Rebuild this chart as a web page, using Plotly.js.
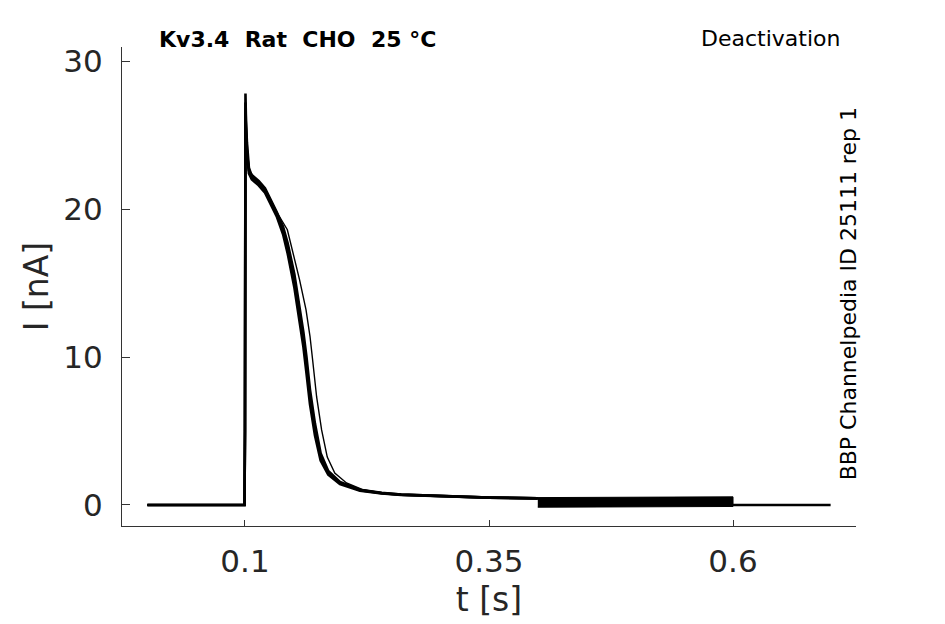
<!DOCTYPE html>
<html>
<head>
<meta charset="utf-8">
<script src="https://cdn.plot.ly/plotly-3.0.1.min.js"></script>
<style>
  html, body { margin: 0; padding: 0; background: #fff; }
  #chart { width: 945px; height: 624px; }
</style>
</head>
<body>
<div id="chart"></div>
<script>
// sample times (s) for the bundle of close sweeps
var tMain = [0, 0.0995, 0.1, 0.1005, 0.101, 0.102, 0.104, 0.107, 0.114, 0.1205, 0.1325,
             0.139, 0.1437, 0.1506, 0.1556, 0.1598, 0.163, 0.1666, 0.1717, 0.1775, 0.1853,
             0.1973, 0.2178, 0.24, 0.26, 0.3, 0.35, 0.4];

// currents (nA)
var sweepA = [0, 0, 5, 27.8, 26.0, 24.5, 22.8, 22.2, 21.8, 21.3, 19.7,
              18.6, 17.4, 15.2, 13.0, 11.2, 9.4, 7.3, 5.07, 3.24, 2.16,
              1.49, 1.0, 0.8, 0.7, 0.6, 0.5, 0.45];
var sweepB = [0, 0, 5, 27.2, 25.6, 24.0, 22.4, 22.0, 21.6, 21.1, 19.5,
              18.3, 17.0, 14.7, 12.5, 10.7, 8.9, 6.8, 4.7, 3.0, 2.05,
              1.42, 0.97, 0.78, 0.68, 0.58, 0.5, 0.45];
var sweepC = [0, 0, 5, 26.5, 25.2, 23.7, 22.6, 22.3, 21.9, 21.4, 19.8,
              18.8, 17.7, 15.6, 13.5, 11.7, 10.0, 7.8, 5.5, 3.5, 2.3,
              1.56, 1.03, 0.82, 0.7, 0.6, 0.5, 0.45];

// the one sweep that deactivates a little later
var tLag = [0, 0.0995, 0.1, 0.1005, 0.101, 0.102, 0.104, 0.107, 0.114, 0.1205, 0.1325,
            0.1434, 0.148, 0.156, 0.1625, 0.1666, 0.1693, 0.1734, 0.1785, 0.1843, 0.192,
            0.204, 0.22, 0.24, 0.26, 0.3, 0.35, 0.4];
var sweepLag = [0, 0, 5, 26.8, 25.4, 23.9, 22.5, 22.1, 21.8, 21.3, 19.8,
                18.6, 17.4, 15.2, 13.2, 11.4, 9.8, 7.3, 5.07, 3.24, 2.16,
                1.49, 1.05, 0.82, 0.7, 0.6, 0.5, 0.45];

// noisy stretch at the end of the test pulse: envelope of the sweeps
var bandT = [0.4, 0.45, 0.5, 0.55, 0.6];
var bandHi = [0.5, 0.5, 0.5, 0.55, 0.55];
var bandLo = [-0.15, -0.12, -0.12, -0.12, -0.1];

// after the pulse
var tailT = [0.6, 0.7];
var tailI = [0, 0];

var xTicks = [0.1, 0.35, 0.6];
var xTickText = ['0.1', '0.35', '0.6'];
var yTicks = [0, 10, 20, 30];

function sweep(t, y, w) {
  return { x: t, y: y, type: 'scatter', mode: 'lines',
           line: { color: '#000', width: w }, hoverinfo: 'skip' };
}

var data = [
  sweep(tMain, sweepA, 2.6),
  sweep(tMain, sweepB, 2.6),
  sweep(tMain, sweepC, 2.6),
  sweep(tLag, sweepLag, 1.4),
  {
    x: bandT.concat(bandT.slice().reverse()),
    y: bandHi.concat(bandLo.slice().reverse()),
    type: 'scatter', mode: 'lines', fill: 'toself', fillcolor: '#000',
    line: { color: '#000', width: 1 }, hoverinfo: 'skip'
  },
  {
    x: tailT, y: tailI, type: 'scatter', mode: 'lines',
    line: { color: '#000', width: 2.6 }, hoverinfo: 'skip'
  }
];

var tickFont = { family: 'DejaVu Sans', size: 31, color: '#262626' };
var titleFont = { family: 'DejaVu Sans', size: 33, color: '#262626' };

var layout = {
  width: 945,
  height: 624,
  showlegend: false,
  paper_bgcolor: '#fff',
  plot_bgcolor: '#fff',
  margin: { l: 122, r: 89, t: 47, b: 98 },
  xaxis: {
    range: [-0.026, 0.726],
    tickvals: xTicks,
    ticktext: xTickText,
    ticks: 'inside',
    ticklen: 6,
    tickcolor: '#333',
    ticklabelstandoff: 8,
    showgrid: false,
    zeroline: false,
    showline: true,
    linecolor: '#333',
    linewidth: 1,
    tickfont: tickFont,
    title: { text: 't [s]', font: titleFont, standoff: 9 }
  },
  yaxis: {
    range: [-1.42, 30.95],
    tickvals: yTicks,
    ticks: 'inside',
    ticklen: 8,
    tickcolor: '#333',
    ticklabelstandoff: 12,
    showgrid: false,
    zeroline: false,
    showline: true,
    linecolor: '#333',
    linewidth: 1,
    tickfont: tickFont,
    title: { text: 'I [nA]', font: titleFont, standoff: 4 }
  },
  annotations: [
    {
      text: '<b>Kv3.4\u00A0\u00A0Rat\u00A0\u00A0CHO\u00A0\u00A025\u00A0°C</b>',
      xref: 'paper', yref: 'paper', x: 0.048, y: 1.015,
      xanchor: 'left', yanchor: 'middle', showarrow: false,
      font: { family: 'DejaVu Sans', size: 22, color: '#000' }
    },
    {
      text: 'Deactivation',
      xref: 'paper', yref: 'paper', x: 0.883, y: 1.017,
      xanchor: 'center', yanchor: 'middle', showarrow: false,
      font: { family: 'DejaVu Sans', size: 22, color: '#000' }
    },
    {
      text: 'BBP Channelpedia ID 25111 rep 1',
      xref: 'paper', yref: 'paper', x: 0.99, y: 0.485,
      xanchor: 'center', yanchor: 'middle', showarrow: false, textangle: -90,
      font: { family: 'DejaVu Sans', size: 22, color: '#000' }
    }
  ]
};

Plotly.newPlot('chart', data, layout, { staticPlot: true, displayModeBar: false });
</script>
</body>
</html>
